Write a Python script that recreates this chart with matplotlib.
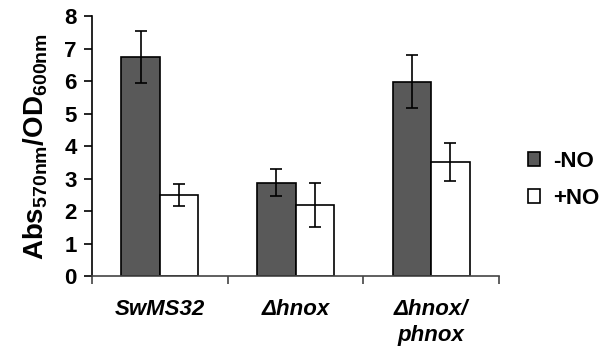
import numpy as np
import matplotlib.pyplot as plt
from matplotlib.ticker import FixedLocator, NullFormatter

plt.rcParams['font.family'] = ['Liberation Sans', 'DejaVu Sans']
plt.rcParams['mathtext.fontset'] = 'custom'
plt.rcParams['mathtext.rm'] = 'Liberation Sans:bold'
plt.rcParams['mathtext.bf'] = 'Liberation Sans:bold'
plt.rcParams['mathtext.default'] = 'bf'

# data
strains = ['SwMS32', 'Δhnox', 'Δhnox/\nphnox']
minus_no = [6.73, 2.87, 5.98]
minus_no_err = [0.80, 0.42, 0.81]
plus_no = [2.50, 2.18, 3.50]
plus_no_err = [0.34, 0.67, 0.58]
series_names = ['-NO', '+NO']

fig = plt.figure(figsize=(6.03, 3.5), dpi=100)
ax = fig.add_axes([0.1526, 0.2114, 0.675, 0.7426])

x = np.arange(len(strains))
w = 0.283
ekw = dict(ecolor='black', elinewidth=1.2, capsize=4, capthick=1.2)
b1 = ax.bar(x - w / 2, minus_no, w, yerr=minus_no_err, color='#595959',
            edgecolor='black', linewidth=1.2, error_kw=ekw, label=series_names[0])
b2 = ax.bar(x + w / 2, plus_no, w, yerr=plus_no_err, color='white',
            edgecolor='black', linewidth=1.2, error_kw=ekw, label=series_names[1])

ax.set_xlim(-0.5, 2.5)
ax.set_ylim(0, 8)
ax.set_yticks(range(0, 9))
ax.tick_params(axis='y', labelsize=16, direction='out', length=6, width=1.2, pad=5)
for lab in ax.get_yticklabels():
    lab.set_fontweight('bold')

# category labels between boundary ticks
ax.xaxis.set_major_locator(FixedLocator([-0.5, 0.5, 1.5, 2.5]))
ax.xaxis.set_major_formatter(NullFormatter())
ax.tick_params(axis='x', direction='out', length=6, width=1.2, color='#444444')
for i, s in enumerate(strains):
    ax.text(x[i], -0.72, s, ha='center', va='top', fontsize=16,
            fontweight='bold', fontstyle='italic', transform=ax.transData,
            linespacing=1.3)

for side in ['top', 'right']:
    ax.spines[side].set_visible(False)
ax.spines['left'].set_linewidth(1.2)
ax.spines['bottom'].set_linewidth(1.2)
ax.spines['bottom'].set_color('#444444')

ax.set_ylabel(r'Abs$_{570nm}$/OD$_{600nm}$', fontsize=20, fontweight='bold',
              labelpad=10)

fig.legend(handles=[b1, b2], labels=series_names, loc='center left',
           bbox_to_anchor=(0.875, 0.486), frameon=False,
           prop={'weight': 'bold', 'size': 16}, handlelength=0.55,
           handleheight=0.55, handletextpad=0.6, labelspacing=0.72,
           borderpad=0, borderaxespad=0)

plt.savefig('out.png', dpi=100)
